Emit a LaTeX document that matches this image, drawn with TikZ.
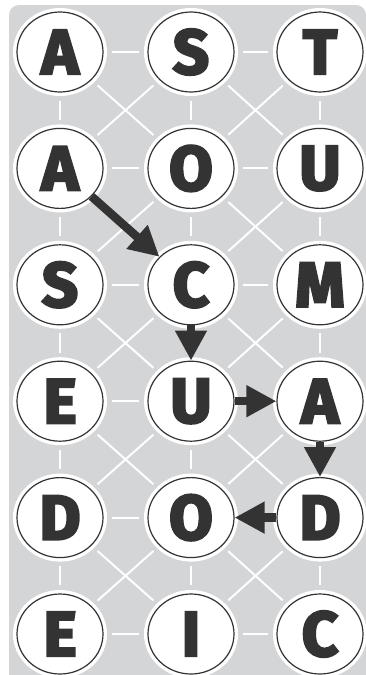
\documentclass[tikz,border=0pt]{standalone}
\usepackage{fontspec}
\setmainfont{Fira Sans}
\newfontfamily\tilefont[FakeBold=4]{Fira Sans}
\usetikzlibrary{shapes.geometric,arrows.meta}
\definecolor{boardgray}{HTML}{D4D5D7}
\definecolor{inkgray}{HTML}{333333}
\begin{document}
\begin{tikzpicture}[x=1pt,y=-1pt]
\tikzstyle{letter}=[ellipse,draw=inkgray,line width=1.2pt,fill=white,minimum width=86pt,minimum height=80pt,inner sep=0pt,preaction={draw=white,line width=8pt},text=inkgray,font=\fontsize{63}{63}\tilefont\bfseries]
\tikzstyle{link}=[draw=white,line width=2pt,shorten <=8pt,shorten >=8pt]
\tikzstyle{trail}=[draw=inkgray,line width=8.5pt,-{Triangle[width=30pt,length=30pt]}]
\useasboundingbox (0,0) rectangle (366,675);
\fill[boardgray,rounded corners=10pt] (9,5) rectangle (366,700);
% letter grid
\foreach \r/\a/\b/\c in {1/A/S/T,2/A/O/U,3/S/C/M,4/E/U/A,5/D/O/D,6/E/I/C}{
  \node[letter] (n\r-1) at (60,{116.4*\r-64.4}) {\a};
  \node[letter] (n\r-2) at (191,{116.4*\r-64.4}) {\b};
  \node[letter] (n\r-3) at (320,{116.4*\r-64.4}) {\c};
}
% white links
\foreach \r in {1,...,6}{
  \draw[link] (n\r-1) -- (n\r-2);
  \draw[link] (n\r-2) -- (n\r-3);
}
\foreach \r in {1,...,5}{
  \pgfmathtruncatemacro{\s}{\r+1}
  \foreach \c in {1,2,3}{
    \draw[link] (n\r-\c) -- (n\s-\c);
  }
  \foreach \c in {1,2}{
    \pgfmathtruncatemacro{\d}{\c+1}
    \draw[link] (n\r-\c) -- (n\s-\d);
    \draw[link] (n\r-\d) -- (n\s-\c);
  }
}
% the word
\draw[trail] (n2-1) -- (n3-2);
\draw[trail] (n3-2) -- (n4-2);
\draw[trail] (n4-2) -- (n4-3);
\draw[trail] (n4-3) -- (n5-3);
\draw[trail] (n5-3) -- (n5-2);
\end{tikzpicture}
\end{document}
